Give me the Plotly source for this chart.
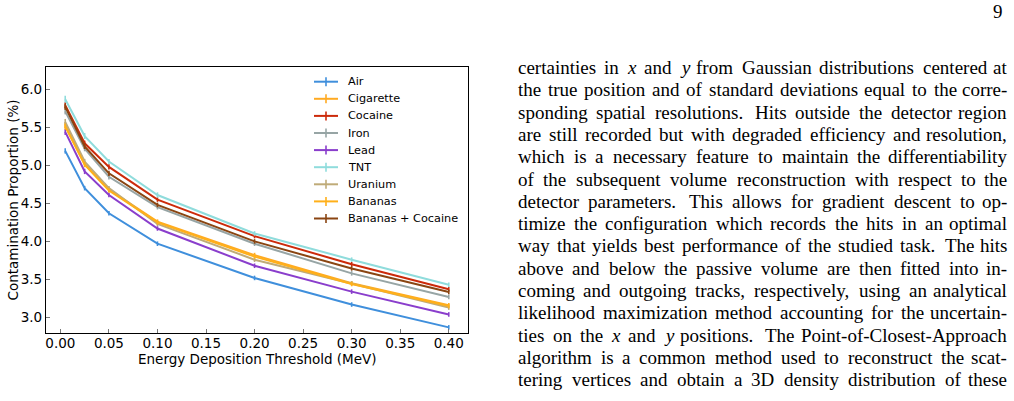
import plotly.graph_objects as go

# ---------------- data ----------------
threshold = [0.005, 0.025, 0.05, 0.10, 0.20, 0.30, 0.40]

air = [5.19, 4.70, 4.37, 3.97, 3.52, 3.17, 2.87]
cigarette = [5.53, 5.02, 4.68, 4.26, 3.82, 3.45, 3.16]
cocaine = [5.79, 5.29, 4.98, 4.55, 4.07, 3.70, 3.37]
iron = [5.71, 5.22, 4.85, 4.45, 3.97, 3.58, 3.27]
lead = [5.44, 4.92, 4.61, 4.17, 3.68, 3.34, 3.04]
tnt = [5.87, 5.385, 5.05, 4.61, 4.105, 3.76, 3.43]
uranium = [5.57, 5.05, 4.70, 4.23, 3.76, 3.45, 3.13]
bananas = [5.51, 5.01, 4.67, 4.25, 3.80, 3.44, 3.15]
bananas_cocaine = [5.77, 5.25, 4.895, 4.48, 4.00, 3.645, 3.335]

air_err = [0.035, 0.03, 0.03, 0.03, 0.03, 0.03, 0.03]
cigarette_err = [0.04, 0.035, 0.03, 0.03, 0.03, 0.03, 0.03]
cocaine_err = [0.04, 0.035, 0.035, 0.03, 0.03, 0.03, 0.03]
iron_err = [0.04, 0.035, 0.035, 0.03, 0.03, 0.03, 0.03]
lead_err = [0.04, 0.035, 0.03, 0.03, 0.03, 0.03, 0.03]
tnt_err = [0.045, 0.04, 0.035, 0.035, 0.03, 0.03, 0.03]
uranium_err = [0.04, 0.035, 0.03, 0.03, 0.03, 0.03, 0.03]
bananas_err = [0.04, 0.035, 0.03, 0.03, 0.03, 0.03, 0.03]
bananas_cocaine_err = [0.04, 0.035, 0.035, 0.03, 0.03, 0.03, 0.03]

series_names = ["Air", "Cigarette", "Cocaine", "Iron", "Lead", "TNT",
                "Uranium", "Bananas", "Bananas + Cocaine"]
series_values = [air, cigarette, cocaine, iron, lead, tnt, uranium, bananas, bananas_cocaine]
series_errors = [air_err, cigarette_err, cocaine_err, iron_err, lead_err, tnt_err,
                 uranium_err, bananas_err, bananas_cocaine_err]
series_colors = ["#3f8fdc", "#ffaa22", "#cc2a0a", "#97a5a5", "#8a3ecc", "#8fdcdc",
                 "#bfab78", "#ffb01a", "#8a4512"]

x_ticks = [0.00, 0.05, 0.10, 0.15, 0.20, 0.25, 0.30, 0.35, 0.40]
y_ticks = [3.0, 3.5, 4.0, 4.5, 5.0, 5.5, 6.0]

x_title = "Energy Deposition Threshold (MeV)"
y_title = "Contamination Proportion (%)"

page_number = "9"
body_lines = [
    "certainties in *x* and *y* from Gaussian distributions centered at",
    "the true position and of standard deviations equal to the corre-",
    "sponding spatial resolutions. Hits outside the detector region",
    "are still recorded but with degraded efficiency and resolution,",
    "which is a necessary feature to maintain the differentiability",
    "of the subsequent volume reconstruction with respect to the",
    "detector parameters. This allows for gradient descent to op-",
    "timize the configuration which records the hits in an optimal",
    "way that yields best performance of the studied task. The hits",
    "above and below the passive volume are then fitted into in-",
    "coming and outgoing tracks, respectively, using an analytical",
    "likelihood maximization method accounting for the uncertain-",
    "ties on the *x* and *y* positions. The Point-of-Closest-Approach",
    "algorithm is a common method used to reconstruct the scat-",
    "tering vertices and obtain a 3D density distribution of these",
]

# ---------------- layout geometry (pixels) ----------------
W, H = 1014, 401
PL, PR, PT, PB = 46, 468, 67, 333   # plot frame
PW, PH = PR - PL, PB - PT


def px_x(px):
    return (px - PL) / PW


def px_y(py):
    return (PB - py) / PH


fig = go.Figure()
for name, vals, errs, col in zip(series_names, series_values, series_errors, series_colors):
    fig.add_trace(go.Scatter(
        x=threshold, y=vals, name=name, mode="lines",
        line=dict(color=col, width=2),
        error_y=dict(type="data", array=errs, visible=True, color=col,
                     thickness=1.6, width=0),
        showlegend=False,
    ))

axis_font = dict(family="DejaVu Sans", size=13.5, color="#000000")
fig.update_xaxes(
    range=[-0.0148, 0.4198], tickvals=x_ticks, ticktext=[f"{v:.2f}" for v in x_ticks],
    showgrid=False, zeroline=False, showline=True, linecolor="#000000", linewidth=1.3,
    mirror=True, ticks="inside", ticklen=4, tickcolor="#777777", tickwidth=1,
    tickfont=axis_font, ticklabelstandoff=-2,
)
fig.update_yaxes(
    range=[2.796, 6.293], tickvals=y_ticks, ticktext=[f"{v:.1f}" for v in y_ticks],
    showgrid=False, zeroline=False, showline=True, linecolor="#000000", linewidth=1.3,
    mirror=True, ticks="inside", ticklen=4, tickcolor="#777777", tickwidth=1,
    tickfont=axis_font,
)

annotations = []
shapes = []

# axis titles
annotations.append(dict(text=x_title, xref="paper", yref="paper", x=px_x(257), y=px_y(359),
                        xanchor="center", yanchor="middle", showarrow=False, borderpad=0,
                        font=axis_font))
annotations.append(dict(text=y_title, xref="paper", yref="paper", x=px_x(12.5), y=px_y(200),
                        xanchor="center", yanchor="middle", showarrow=False, borderpad=0,
                        textangle=-90, font=axis_font))

# ---------------- legend (drawn as key) ----------------
leg_top, leg_step = 81.7, 17.1
for i, (name, col) in enumerate(zip(series_names, series_colors)):
    yc = leg_top + i * leg_step
    shapes.append(dict(type="line", xref="paper", yref="paper",
                       x0=px_x(314), x1=px_x(338), y0=px_y(yc), y1=px_y(yc),
                       line=dict(color=col, width=2)))
    shapes.append(dict(type="line", xref="paper", yref="paper",
                       x0=px_x(326), x1=px_x(326), y0=px_y(yc - 4.5), y1=px_y(yc + 4.5),
                       line=dict(color=col, width=1.6)))
    annotations.append(dict(text=name, xref="paper", yref="paper", x=px_x(347), y=px_y(yc),
                            xanchor="left", yanchor="middle", showarrow=False, borderpad=0,
                            font=dict(family="DejaVu Sans", size=11.25, color="#000000")))

# ---------------- body text (justified) ----------------
TIMES = {
    ' ': 250, ',': 250, '-': 333, '.': 250, '3': 500, 'D': 722,
    'A': 722, 'C': 667, 'G': 722, 'H': 722, 'P': 556, 'T': 611,
    'a': 444, 'b': 500, 'c': 444, 'd': 500, 'e': 444, 'f': 333, 'g': 500, 'h': 500,
    'i': 278, 'j': 278, 'k': 500, 'l': 278, 'm': 778, 'n': 500, 'o': 500, 'p': 500,
    'q': 500, 'r': 333, 's': 389, 't': 278, 'u': 500, 'v': 500, 'w': 722, 'x': 500,
    'y': 500, 'z': 444,
}
FS = 19.0
TX0, TX1 = 517, 1008
LINE0, LSTEP = 67.5, 22.3
serif = dict(family="Liberation Serif", size=FS, color="#000000")


def word_width(w, italic):
    if italic:
        return 444 / 1000 * FS
    return sum(TIMES.get(c, 500) for c in w) / 1000 * FS


for li, line in enumerate(body_lines):
    words = line.split(" ")
    parsed = []
    for w in words:
        it = w.startswith("*") and w.endswith("*")
        ww = w.strip("*")
        parsed.append((ww, it, word_width(ww, it)))
    total = sum(p[2] for p in parsed)
    weights = []
    for k in range(len(parsed) - 1):
        weights.append(1.4 if parsed[k][0].endswith(".") and parsed[k + 1][0][0].isupper() else 1.0)
    gap_unit = (TX1 - TX0 - total) / sum(weights)
    yc = LINE0 + li * LSTEP
    xpos = TX0
    for k, (ww, it, wd) in enumerate(parsed):
        txt = f"<i>{ww}</i>" if it else ww
        if k == len(parsed) - 1:
            annotations.append(dict(text=txt, xref="paper", yref="paper", x=px_x(TX1), y=px_y(yc),
                                    xanchor="right", yanchor="middle", showarrow=False,
                                    borderpad=0, font=serif))
        else:
            annotations.append(dict(text=txt, xref="paper", yref="paper", x=px_x(xpos), y=px_y(yc),
                                    xanchor="left", yanchor="middle", showarrow=False,
                                    borderpad=0, font=serif))
            xpos += wd + gap_unit * weights[k]

annotations.append(dict(text=page_number, xref="paper", yref="paper", x=px_x(1004), y=px_y(12),
                        xanchor="right", yanchor="middle", showarrow=False, borderpad=0,
                        font=serif))

fig.update_layout(
    width=W, height=H,
    margin=dict(l=PL, r=W - PR, t=PT, b=H - PB, autoexpand=False),
    paper_bgcolor="#ffffff", plot_bgcolor="#ffffff",
    showlegend=False,
    annotations=annotations, shapes=shapes,
)

fig.write_html("out.html")
